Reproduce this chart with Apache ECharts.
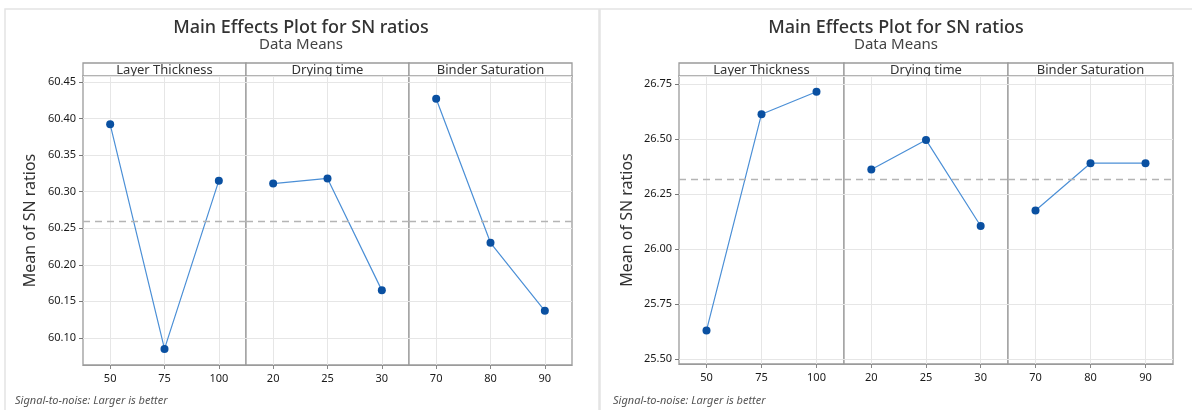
<!DOCTYPE html>
<html lang="en">
<head>
<meta charset="UTF-8">
<title>Main Effects Plot for SN ratios</title>
<script src="https://cdn.jsdelivr.net/npm/echarts@6/dist/echarts.min.js"></script>
<style>
    body { margin: 0; background: #fff; }
    #main { width: 1192px; height: 410px; }
</style>
</head>
<body>
<div id="main"></div>
<script>
// factors and their levels (same for both plots)
var factors = ['Layer Thickness', 'Drying time', 'Binder Saturation'];
var levels = [['50', '75', '100'], ['20', '25', '30'], ['70', '80', '90']];

// left plot: mean of SN ratios for each level
var snLeftLayer = [60.392, 60.085, 60.315];
var snLeftDrying = [60.311, 60.318, 60.165];
var snLeftBinder = [60.427, 60.230, 60.137];

// right plot
var snRightLayer = [25.630, 26.614, 26.716];
var snRightDrying = [26.362, 26.497, 26.105];
var snRightBinder = [26.176, 26.391, 26.391];

var font = '"Noto Sans", "Open Sans", sans-serif';

var plots = [
    {
        data: [snLeftLayer, snLeftDrying, snLeftBinder],
        yMin: 60.063, yMax: 60.458, step: 0.05,
        edges: [83, 246, 409, 572], top: 76, bottom: 365,
        center: 301, frameX: 5, frameW: 594, noteX: 15, nameGap: 45
    },
    {
        data: [snRightLayer, snRightDrying, snRightBinder],
        yMin: 25.477, yMax: 26.788, step: 0.25,
        edges: [679, 844, 1008, 1173], top: 76, bottom: 364,
        center: 896, frameX: 600, frameW: 600, noteX: 613, nameGap: 44
    }
];

var grids = [], xAxes = [], yAxes = [], series = [], graphics = [];

plots.forEach(function (p) {
    // grand mean for the dashed reference line
    var all = [].concat.apply([], p.data);
    var mean = all.reduce(function (a, b) { return a + b; }, 0) / all.length;
    var h = p.bottom - p.top;

    graphics.push({
        type: 'rect', z: -10,
        shape: { x: p.frameX, y: 9, width: p.frameW, height: 430 },
        style: { fill: '#fff', stroke: '#e4e4e4', lineWidth: 1.5 }
    });

    for (var i = 0; i < 3; i++) {
        var idx = grids.length;
        var w = p.edges[i + 1] - p.edges[i];
        grids.push({
            left: p.edges[i], width: w, top: p.top, height: h,
            show: true, borderColor: '#9b9b9b', borderWidth: 1.3, backgroundColor: '#fff'
        });
        xAxes.push({
            gridIndex: idx, type: 'category', data: levels[i], boundaryGap: true,
            axisLine: { show: true, lineStyle: { color: '#9b9b9b' } },
            axisTick: { show: true, alignWithLabel: true, length: 4, lineStyle: { color: '#888' } },
            axisLabel: { margin: 8, fontSize: 11, color: '#1a1a1a', fontFamily: font },
            splitLine: { show: true, alignWithLabel: true, lineStyle: { color: '#e6e6e6' } }
        });
        yAxes.push({
            gridIndex: idx, type: 'value',
            min: p.yMin, max: p.yMax, minInterval: p.step, maxInterval: p.step, splitNumber: 6,
            axisLine: { show: false },
            axisTick: { show: i === 0, length: 4, lineStyle: { color: '#777' } },
            axisLabel: {
                show: i === 0, showMinLabel: false, showMaxLabel: false, margin: 7,
                fontSize: 11, color: '#1a1a1a', fontFamily: font,
                formatter: function (v) { return v.toFixed(2); }
            },
            splitLine: { lineStyle: { color: '#e6e6e6' } },
            name: i === 0 ? 'Mean of SN ratios' : '',
            nameLocation: 'middle', nameGap: p.nameGap,
            nameTextStyle: { fontSize: 16, color: '#333', fontFamily: font }
        });
        series.push({
            type: 'line', xAxisIndex: idx, yAxisIndex: idx,
            data: p.data[i],
            symbol: 'circle', symbolSize: 8,
            itemStyle: { color: '#0a50a1' },
            lineStyle: { color: '#4b8fd6', width: 1.2 },
            markLine: {
                silent: true, symbol: 'none', label: { show: false },
                lineStyle: { color: '#b4b4b4', type: [7, 5], width: 1.3 },
                data: [{ yAxis: mean }]
            }
        });

        // factor strip above each panel
        graphics.push({
            type: 'rect',
            shape: { x: p.edges[i], y: 63, width: w, height: 13 },
            style: { fill: '#fff', stroke: '#9b9b9b', lineWidth: 1.3 }
        });
        graphics.push({
            type: 'text',
            style: {
                text: factors[i], x: p.edges[i] + w / 2, y: 70,
                textAlign: 'center', textVerticalAlign: 'middle',
                font: '13px ' + font, fill: '#333'
            }
        });
    }

    graphics.push({
        type: 'text',
        style: {
            text: 'Main Effects Plot for SN ratios', x: p.center, y: 28,
            textAlign: 'center', textVerticalAlign: 'middle',
            font: '500 18px ' + font, fill: '#333'
        }
    });
    graphics.push({
        type: 'text',
        style: {
            text: 'Data Means', x: p.center, y: 45,
            textAlign: 'center', textVerticalAlign: 'middle',
            font: '15px ' + font, fill: '#444'
        }
    });
    graphics.push({
        type: 'text',
        style: {
            text: 'Signal-to-noise: Larger is better', x: p.noteX, y: 401,
            textAlign: 'left', textVerticalAlign: 'middle',
            font: 'italic 11px ' + font, fill: '#555'
        }
    });
});

var myChart = echarts.init(document.getElementById('main'));
myChart.setOption({
    animation: false,
    grid: grids,
    xAxis: xAxes,
    yAxis: yAxes,
    series: series,
    graphic: graphics
});
</script>
</body>
</html>
